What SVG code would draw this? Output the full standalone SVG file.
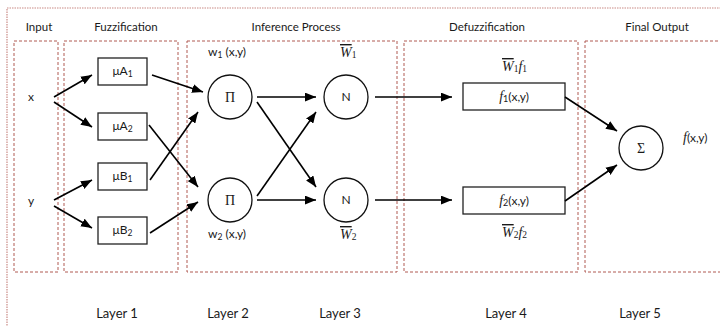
<svg xmlns="http://www.w3.org/2000/svg" width="720" height="326" viewBox="0 0 720 326">
<style>
.t{font-family:Lato,"Liberation Sans",sans-serif;font-size:12px;fill:#1a1a1a;}
.lay{font-family:Lato,"Liberation Sans",sans-serif;font-size:13px;fill:#1a1a1a;text-anchor:middle;}
.ttl{font-family:Lato,"Liberation Sans",sans-serif;font-size:11.5px;fill:#1a1a1a;text-anchor:middle;}
.m{font-family:"Liberation Serif","DejaVu Serif",serif;font-style:italic;fill:#1a1a1a;}
.sym{font-family:"Liberation Serif","DejaVu Serif",serif;font-size:14px;fill:#1a1a1a;text-anchor:middle;}
.box{fill:#fff;stroke:#222;stroke-width:1.3;}
.circ{fill:#fff;stroke:#111;stroke-width:1.3;}
.grp{fill:none;stroke:#b05a52;stroke-width:1;stroke-dasharray:3,2;}
.outer{fill:none;stroke:#c98a85;stroke-width:1.2;stroke-dasharray:1.5,1;}
.arr{fill:none;stroke:#000;stroke-width:1.6;marker-end:url(#ah);}
</style>
<defs>
<marker id="ah" viewBox="0 0 10 8" refX="10" refY="4" markerWidth="11" markerHeight="9" markerUnits="userSpaceOnUse" orient="auto">
<path d="M0,0 L10,4 L0,8 Z" fill="#000"/>
</marker>
</defs>
<rect width="720" height="326" fill="#fff"/>
<g id="frames">
<rect class="outer" x="7" y="8" width="725" height="330"/>
<rect class="grp" x="14" y="41" width="44" height="231"/>
<rect class="grp" x="64" y="41" width="114" height="231"/>
<rect class="grp" x="187" y="41" width="210" height="231"/>
<rect class="grp" x="404" y="41" width="174" height="231"/>
<rect class="grp" x="585" y="41" width="145" height="231"/>
</g>
<g id="titles">
<text class="ttl" x="39" y="31">Input</text>
<text class="ttl" x="126" y="31">Fuzzification</text>
<text class="ttl" x="296" y="31">Inference Process</text>
<text class="ttl" x="487" y="31">Defuzzification</text>
<text class="ttl" x="657" y="31">Final Output</text>
<text class="lay" x="117" y="318">Layer 1</text>
<text class="lay" x="228" y="318">Layer 2</text>
<text class="lay" x="340" y="318">Layer 3</text>
<text class="lay" x="506" y="318">Layer 4</text>
<text class="lay" x="640" y="318">Layer 5</text>
</g>
<g id="input-x"><text class="t" x="28" y="101">x</text></g>
<g id="input-y"><text class="t" x="28" y="205">y</text></g>
<g id="muA1"><rect class="box" x="98" y="58" width="49" height="27"/><text class="t" x="122.5" y="75" text-anchor="middle">μA<tspan font-size="8.5" dy="2">1</tspan></text></g>
<g id="muA2"><rect class="box" x="98" y="113" width="49" height="27"/><text class="t" x="122.5" y="130" text-anchor="middle">μA<tspan font-size="8.5" dy="2">2</tspan></text></g>
<g id="muB1"><rect class="box" x="98" y="163" width="49" height="27"/><text class="t" x="122.5" y="180" text-anchor="middle">μB<tspan font-size="8.5" dy="2">1</tspan></text></g>
<g id="muB2"><rect class="box" x="98" y="217" width="49" height="27"/><text class="t" x="122.5" y="234" text-anchor="middle">μB<tspan font-size="8.5" dy="2">2</tspan></text></g>
<g id="pi1"><circle class="circ" cx="230" cy="97" r="22"/><text class="sym" x="230" y="102">Π</text><text class="t" x="208" y="56">w<tspan font-size="8.5" dy="2">1</tspan><tspan dy="-2"> (x,y)</tspan></text></g>
<g id="pi2"><circle class="circ" cx="230" cy="200" r="22"/><text class="sym" x="230" y="205">Π</text><text class="t" x="208" y="238">w<tspan font-size="8.5" dy="2">2</tspan><tspan dy="-2"> (x,y)</tspan></text></g>
<g id="n1"><circle class="circ" cx="346" cy="97" r="22"/><text class="t" x="346" y="101" text-anchor="middle">N</text><text class="m" x="340" y="57" font-size="14"><tspan text-decoration="overline">W</tspan><tspan font-size="9.5" font-style="normal" dy="1">1</tspan></text></g>
<g id="n2"><circle class="circ" cx="346" cy="200" r="22"/><text class="t" x="346" y="204" text-anchor="middle">N</text><text class="m" x="340" y="239" font-size="14"><tspan text-decoration="overline">W</tspan><tspan font-size="9.5" font-style="normal" dy="1">2</tspan></text></g>
<g id="f1"><rect class="box" x="463" y="83" width="102" height="27"/><text class="t" x="514" y="101" text-anchor="middle"><tspan class="m" font-size="14">f</tspan><tspan font-size="9" dy="1">1</tspan><tspan dy="-1">(x,y)</tspan></text><text class="m" x="502" y="71" font-size="14"><tspan text-decoration="overline">W</tspan><tspan font-size="9.5" font-style="normal" dy="1">1</tspan><tspan dy="-1">f</tspan><tspan font-size="9.5" font-style="normal" dy="1">1</tspan></text></g>
<g id="f2"><rect class="box" x="463" y="187" width="102" height="27"/><text class="t" x="514" y="205" text-anchor="middle"><tspan class="m" font-size="14">f</tspan><tspan font-size="9" dy="1">2</tspan><tspan dy="-1">(x,y)</tspan></text><text class="m" x="502" y="237" font-size="14"><tspan text-decoration="overline">W</tspan><tspan font-size="9.5" font-style="normal" dy="1">2</tspan><tspan dy="-1">f</tspan><tspan font-size="9.5" font-style="normal" dy="1">2</tspan></text></g>
<g id="sigma"><circle class="circ" cx="641" cy="148" r="22"/><text class="sym" x="641" y="153">Σ</text></g>
<g id="output"><text class="t" x="683" y="142"><tspan class="m" font-size="14">f</tspan>(x,y)</text></g>
<g id="connectors">
<line class="arr" x1="54" y1="97" x2="92" y2="75"/>
<line class="arr" x1="54" y1="102" x2="92" y2="127"/>
<line class="arr" x1="54" y1="200" x2="92" y2="180"/>
<line class="arr" x1="54" y1="206" x2="92" y2="228"/>
<line class="arr" x1="152" y1="75" x2="203" y2="92"/>
<line class="arr" x1="149" y1="125" x2="198" y2="187"/>
<line class="arr" x1="150" y1="180" x2="198" y2="112"/>
<line class="arr" x1="150" y1="233" x2="198" y2="202"/>
<line class="arr" x1="257" y1="97" x2="316" y2="97"/>
<line class="arr" x1="257" y1="102" x2="316" y2="187"/>
<line class="arr" x1="257" y1="196" x2="316" y2="112"/>
<line class="arr" x1="257" y1="200" x2="316" y2="200"/>
<line class="arr" x1="375" y1="97" x2="452" y2="97"/>
<line class="arr" x1="375" y1="200" x2="452" y2="200"/>
<line class="arr" x1="565" y1="97" x2="617" y2="131"/>
<line class="arr" x1="565" y1="201" x2="617" y2="165"/>
</g>
</svg>
